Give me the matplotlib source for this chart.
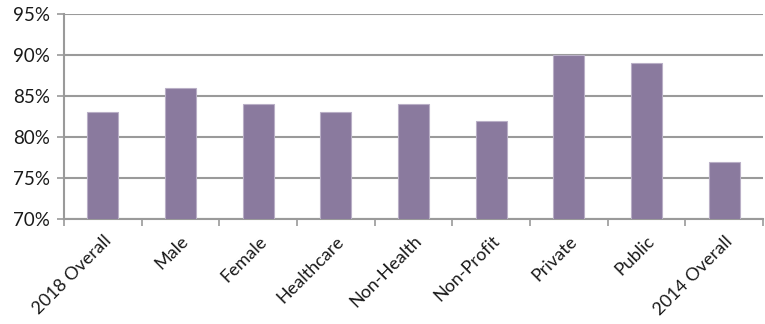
import matplotlib
matplotlib.use("Agg")
import matplotlib.pyplot as plt
from matplotlib.ticker import FuncFormatter, MultipleLocator

categories = ["2018 Overall", "Male", "Female", "Healthcare", "Non-Health",
              "Non-Profit", "Private", "Public", "2014 Overall"]
values = [83, 86, 84, 83, 84, 82, 90, 89, 77]

plt.rcParams["font.family"] = ["Lato", "DejaVu Sans"]

fig = plt.figure(figsize=(7.65, 3.24), dpi=100)
ax = fig.add_axes([64 / 765, 1 - 219 / 324, 699 / 765, 205 / 324])

grid_color = "#9a9a9a"
x = list(range(len(categories)))
ax.bar(x, values, width=0.4, color="#8a7a9e", edgecolor="#b9afc6",
       linewidth=0.8, zorder=3)

ax.set_ylim(70, 95)
ax.set_xlim(-0.5, len(categories) - 0.5)
ax.yaxis.set_major_locator(MultipleLocator(5))
ax.yaxis.set_major_formatter(FuncFormatter(lambda v, _: f"{v:.0f}%"))
ax.grid(axis="y", color=grid_color, linewidth=1.5, zorder=0)

# Category boundaries carry the x tick marks; labels sit at the bar centres
ax.set_xticks([i - 0.5 for i in range(len(categories) + 1)])
ax.set_xticklabels([])
ax.set_xticks(x, minor=True)
ax.set_xticklabels(categories, minor=True, rotation=45, ha="right",
                   rotation_mode="anchor", fontsize=13, color="#1a1a1a")
ax.tick_params(axis="x", which="major", length=5, width=1.2, color=grid_color,
               direction="out")
ax.tick_params(axis="x", which="minor", length=0, pad=10)
ax.tick_params(axis="y", length=5, width=1.2, color=grid_color,
               labelsize=13.5, labelcolor="#1a1a1a", pad=5)

for side in ("top", "right"):
    ax.spines[side].set_visible(False)
for side in ("left", "bottom"):
    ax.spines[side].set_color(grid_color)
    ax.spines[side].set_linewidth(1.5)

fig.savefig("out.png", dpi=100)
